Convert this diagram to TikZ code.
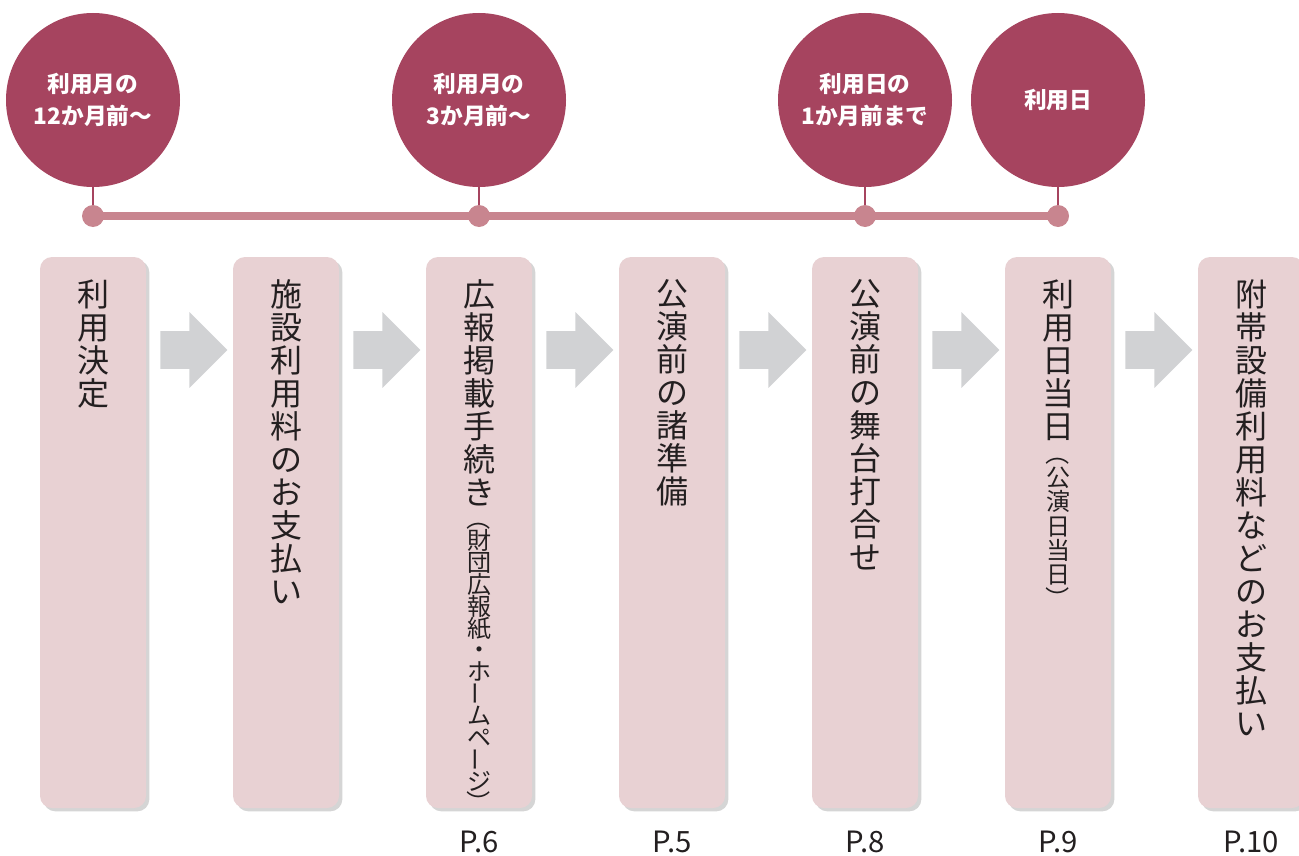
\documentclass[tikz,border=0pt]{standalone}
\usepackage{fontspec}
\usepackage{graphicx}
\setmainfont{Noto Sans CJK JP}
\usetikzlibrary{shapes.arrows,shadows}

\definecolor{wine}{RGB}{166,68,95}
\definecolor{dotmauve}{RGB}{200,133,143}
\definecolor{boxpink}{RGB}{232,209,211}
\definecolor{arrowgray}{RGB}{209,210,212}
\definecolor{inkgray}{RGB}{35,31,32}

% vertical forms for the small notes
\newcommand{\vbar}{\raisebox{0.17em}{\rotatebox[origin=c]{90}{ー}}}
\newcommand{\vopen}{\rule{0pt}{0.88em}\rotatebox[origin=c]{-90}{（}}
\newcommand{\vclose}{\rotatebox[origin=c]{-90}{）}}
\newcommand{\tightlines}{\lineskiplimit=-100pt\relax}

\begin{document}
\begin{tikzpicture}[x=0.75pt,y=-0.75pt,inner sep=0pt,
  stepbox/.style={rectangle,rounded corners=9pt,fill=boxpink,
    minimum width=79.5pt,minimum height=413.25pt,
    drop shadow={shadow xshift=2.5pt,shadow yshift=-2.5pt,opacity=0.3,fill=black!55}},
  flowarrow/.style={single arrow,anchor=tail,fill=arrowgray,text height=13.9pt,text depth=13.9pt,
    minimum height=50.25pt,single arrow head extend=14.25pt},
  milestone/.style={circle,fill=wine,minimum size=130.5pt,text=white,align=center,
    font=\bfseries\fontsize{17}{24}\selectfont},
  bigtext/.style={anchor=north,align=center,text=inkgray,
    font={\fontsize{24}{24.75}\selectfont\tightlines}},
  smalltext/.style={anchor=north,align=center,text=inkgray,
    font={\fontsize{18}{#1}\selectfont\tightlines}},
  pagelabel/.style={text=inkgray,font=\fontsize{22}{24}\selectfont},
  timeline/.style={line width=6pt,dotmauve},
  stem/.style={line width=1.5pt,wine}]
  \useasboundingbox (0,0) rectangle (1299,856);

  % steps
  \foreach \i in {1,...,7}
    \node[stepbox] (b\i) at ({93+193*(\i-1)},532.5) {};
  \foreach \i in {1,...,6}
    \node[flowarrow] (a\i) at ({160+193*(\i-1)},350) {};

  % timeline
  \foreach \n/\x in {1/93,2/479,3/865,4/1058}
    {
      \coordinate (d\n) at (\x,216);
    }
  \draw[timeline] (d1) -- (d4);
  \node[milestone] (m1) at (93,100) {利用月の\\12か月前〜};
  \node[milestone] (m2) at (479,100) {利用月の\\3か月前〜};
  \node[milestone] (m3) at (865,100) {利用日の\\1か月前まで};
  \node[milestone] (m4) at (1058,100) {利用日};
  \foreach \n in {1,...,4}
    {
      \draw[stem] (m\n.south) -- (d\n);
      \fill[dotmauve] (d\n) circle (8.25pt);
    }

  % labels
  \node[bigtext] (t1) at ([yshift=-17pt]b1.north) {利\\用\\決\\定};
  \node[bigtext] (t2) at ([yshift=-17pt]b2.north) {施\\設\\利\\用\\料\\の\\お\\支\\払\\い};
  \node[bigtext] (t3) at ([yshift=-17pt]b3.north) {広\\報\\掲\\載\\手\\続\\き};
  \node[smalltext=16.4pt] (s3) at (t3.south) {\vopen\\財\\団\\広\\報\\紙\\・\\ホ\\\vbar\\ム\\ペ\\\vbar\\ジ\\\vclose};
  \node[bigtext] (t4) at ([yshift=-17pt]b4.north) {公\\演\\前\\の\\諸\\準\\備};
  \node[bigtext] (t5) at ([yshift=-17pt]b5.north) {公\\演\\前\\の\\舞\\台\\打\\合\\せ};
  \node[bigtext] (t6) at ([yshift=-17pt]b6.north) {利\\用\\日\\当\\日};
  \node[smalltext=18.2pt] (s6) at (t6.south) {\vopen\\公\\演\\日\\当\\日\\\vclose};
  \node[bigtext] (t7) at ([yshift=-17pt]b7.north) {附\\帯\\設\\備\\利\\用\\料\\な\\ど\\の\\お\\支\\払\\い};

  \foreach \i/\p in {3/6,4/5,5/8,6/9,7/10}
    \node[pagelabel] (p\i) at ([yshift=-25.5pt]b\i.south) {P.\p};
\end{tikzpicture}
\end{document}
